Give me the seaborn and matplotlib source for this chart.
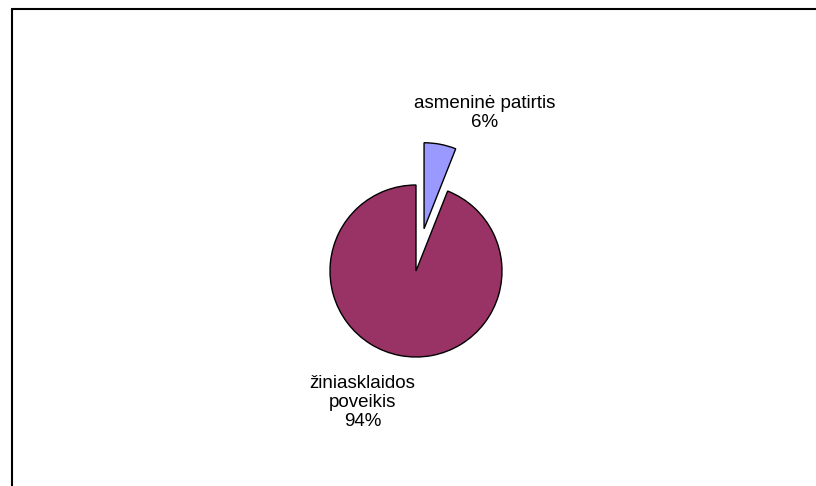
import numpy as np
import seaborn as sns
import matplotlib.pyplot as plt
from matplotlib.lines import Line2D

sns.set_theme(style="white")
plt.rcParams['font.family'] = ['Liberation Sans', 'DejaVu Sans']

# duomenys
kategorijos = ["asmeninė patirtis", "žiniasklaidos\npoveikis"]
reiksmes = [6, 94]
spalvos = ["#9999ff", "#993366"]
isskleidimas = [0.5, 0.0]

fig = plt.figure(figsize=(8.16, 4.86), dpi=100)
ax = fig.add_axes([0, 0, 1, 1])

# pyrago centras ir spindulys pikseliais
cx, cy, r = 416, 271, 86
ax.pie(reiksmes, colors=spalvos, explode=isskleidimas, startangle=90,
       counterclock=False, radius=1,
       wedgeprops=dict(edgecolor="black", linewidth=1.0))
ax.set_xlim(-cx / r, (816 - cx) / r)
ax.set_ylim(-(486 - cy) / r, cy / r)
ax.set_aspect("auto")
ax.axis("off")

# etiketės
ax.text(0.80, 1.84, f"{kategorijos[0]}\n{reiksmes[0]}%", ha="center", va="center",
        fontsize=13.5, color="black", linespacing=1.17)
ax.text(-0.62, -1.53, f"{kategorijos[1]}\n{reiksmes[1]}%", ha="center", va="center",
        fontsize=13.5, color="black", linespacing=1.17)

# rėmelis (tik viršus ir kairė matomi)
fig.add_artist(Line2D([11.5 / 816, 1], [1 - 9.5 / 486, 1 - 9.5 / 486],
                      transform=fig.transFigure, color="black", lw=1.5))
fig.add_artist(Line2D([11.5 / 816, 11.5 / 816], [0, 1 - 9.5 / 486],
                      transform=fig.transFigure, color="black", lw=1.5))

plt.savefig("out.png", dpi=100)
